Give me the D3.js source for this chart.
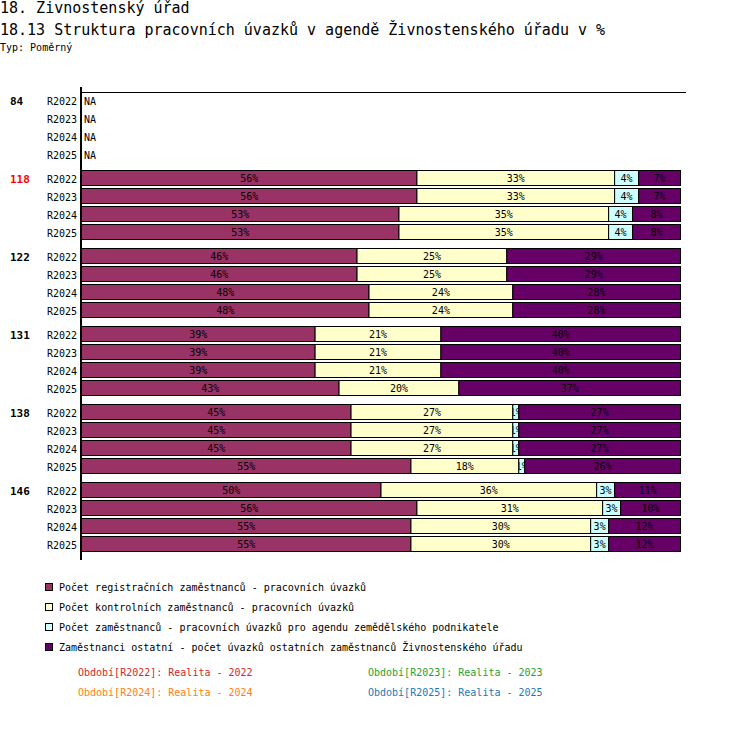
<!DOCTYPE html>
<html>
<head>
<meta charset="utf-8">
<script src="https://cdn.jsdelivr.net/npm/d3@7"></script>
<style>
  body { margin: 0; background: #fff; }
  text { font-family: "DejaVu Sans Mono", monospace; }
</style>
</head>
<body>
<svg id="chart" width="750" height="750"></svg>
<script>
// data (percent of total)
const groups = ["84", "118", "122", "131", "138", "146"];
const periods = ["R2022", "R2023", "R2024", "R2025"];
const seriesNames = [
  "Počet registračních zaměstnanců - pracovních úvazků",
  "Počet kontrolních zaměstnanců - pracovních úvazků",
  "Počet zaměstnanců - pracovních úvazků pro agendu zemědělského podnikatele",
  "Zaměstnanci ostatní - počet úvazků ostatních zaměstnanců Živnostenského úřadu"
];
// one value per group x period, in the order above (null = NA)
const registracni = [null, null, null, null, 56, 56, 53, 53, 46, 46, 48, 48, 39, 39, 39, 43, 45, 45, 45, 55, 50, 56, 55, 55];
const kontrolni   = [null, null, null, null, 33, 33, 35, 35, 25, 25, 24, 24, 21, 21, 21, 20, 27, 27, 27, 18, 36, 31, 30, 30];
const zemedelske  = [null, null, null, null,  4,  4,  4,  4,  0,  0,  0,  0,  0,  0,  0,  0,  1,  1,  1,  1,  3,  3,  3,  3];
const ostatni     = [null, null, null, null,  7,  7,  8,  8, 29, 29, 28, 28, 40, 40, 40, 37, 27, 27, 27, 26, 11, 10, 12, 12];
const periodLegend = [
  "Období[R2022]: Realita - 2022",
  "Období[R2023]: Realita - 2023",
  "Období[R2024]: Realita - 2024",
  "Období[R2025]: Realita - 2025"
];

const colors = ["#993366", "#ffffcc", "#ccffff", "#660066"];
const periodColors = ["#d62728", "#2ca02c", "#ff7f0e", "#1f77b4"];
const highlightGroup = "118";

const svg = d3.select("#chart");

// titles
svg.append("text").attr("x", 0).attr("y", 13).style("font-size", "15px").text("18. Živnostenský úřad");
svg.append("text").attr("x", 0).attr("y", 35).style("font-size", "15px")
  .text("18.13 Struktura pracovních úvazků v agendě Živnostenského úřadu v %");
svg.append("text").attr("x", 0).attr("y", 51).style("font-size", "10px").text("Typ: Poměrný");

// scales
const x = d3.scaleLinear().domain([0, 100]).range([81, 680]);
const yGroup = d3.scaleBand().domain(groups).range([92, 560]);
const yRow = d3.scaleBand().domain(periods).range([0, 72]);

// rows
const rows = [];
groups.forEach((g, gi) => {
  periods.forEach((p, pi) => {
    const i = gi * periods.length + pi;
    const vals = [registracni[i], kontrolni[i], zemedelske[i], ostatni[i]];
    rows.push({ group: g, period: p, vals: vals, top: yGroup(g) + yRow(p) });
  });
});

const defs = svg.append("defs");
let clipId = 0;

const rowG = svg.append("g").selectAll("g").data(rows).enter().append("g");

rowG.append("text")
  .attr("x", 77).attr("y", d => d.top + 9)
  .attr("text-anchor", "end").attr("dominant-baseline", "central")
  .style("font-size", "10px")
  .text(d => d.period);

rowG.each(function (d) {
  const g = d3.select(this);
  if (d.vals[0] === null) {
    g.append("text").attr("x", 84).attr("y", d.top + 9)
      .attr("dominant-baseline", "central").style("font-size", "10px").text("NA");
    return;
  }
  let acc = 0;
  d.vals.forEach((v, k) => {
    if (!v) return;
    const x0 = x(acc), x1 = x(acc + v);
    acc += v;
    g.append("rect")
      .attr("x", x0 + 0.5).attr("y", d.top + 0.5)
      .attr("width", x1 - x0).attr("height", 15)
      .attr("fill", colors[k]).attr("stroke", "#000").attr("stroke-width", 1);
    const id = "clip" + (clipId++);
    defs.append("clipPath").attr("id", id).append("rect")
      .attr("x", x0 + 1).attr("y", d.top).attr("width", Math.max(0, x1 - x0 - 1)).attr("height", 16);
    g.append("text")
      .attr("x", (x0 + x1) / 2 + 0.5).attr("y", d.top + 8.5)
      .attr("text-anchor", "middle").attr("dominant-baseline", "central")
      .attr("clip-path", "url(#" + id + ")")
      .style("font-size", "10px").attr("fill", "#000")
      .text(v + "%");
  });
});

// group labels
svg.append("g").selectAll("text").data(groups).enter().append("text")
  .attr("x", 10).attr("y", g => yGroup(g) + 9)
  .attr("dominant-baseline", "central")
  .style("font-size", "11px").style("font-weight", "bold")
  .attr("fill", g => g === highlightGroup ? "#ff0000" : "#000")
  .text(g => g);

// axis lines
svg.append("line").attr("x1", 80).attr("x2", 686).attr("y1", 92.5).attr("y2", 92.5)
  .attr("stroke", "#000").attr("stroke-width", 1);
svg.append("line").attr("x1", 81).attr("x2", 81).attr("y1", 87).attr("y2", 560)
  .attr("stroke", "#000").attr("stroke-width", 2);

// series legend
const leg = svg.append("g").selectAll("g").data(seriesNames).enter().append("g")
  .attr("transform", (d, i) => `translate(45,${587 + i * 20})`);
leg.append("rect").attr("x", 0.5).attr("y", -3.5).attr("width", 7).attr("height", 7)
  .attr("fill", (d, i) => colors[i]).attr("stroke", "#000");
leg.append("text").attr("x", 14).attr("y", 0).attr("dominant-baseline", "central")
  .style("font-size", "10px").text(d => d);

// period legend
svg.append("g").selectAll("text").data(periodLegend).enter().append("text")
  .attr("x", (d, i) => i % 2 === 0 ? 78 : 368)
  .attr("y", (d, i) => 672 + Math.floor(i / 2) * 20)
  .attr("dominant-baseline", "central")
  .style("font-size", "10px")
  .attr("fill", (d, i) => periodColors[i])
  .text(d => d);
</script>
</body>
</html>
